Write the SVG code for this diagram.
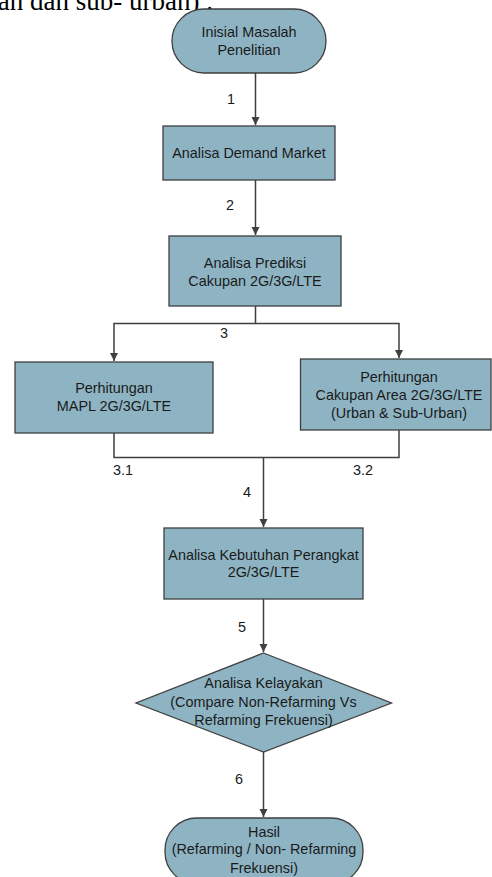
<svg xmlns="http://www.w3.org/2000/svg" width="492" height="877" viewBox="0 0 492 877">
<style>
.n{fill:#8eb4c3;stroke:#3f3f3f;stroke-width:1.3}
.t{font-family:"Liberation Sans",Arial,sans-serif;font-size:14.4px;fill:#1a1a1a;text-anchor:middle}
.c{fill:none;stroke:#3f3f3f;stroke-width:1.5}
.h{font-family:"Liberation Serif","Times New Roman",serif;font-size:27px;fill:#000}
</style>
<defs>
<marker id="a" markerWidth="10" markerHeight="10" refX="8" refY="4" orient="auto" markerUnits="userSpaceOnUse">
<path d="M0,0 L8,4 L0,8 Z" fill="#3f3f3f"/>
</marker>
</defs>
<rect width="492" height="877" fill="#fff"/>
<text class="h" x="213" y="10" text-anchor="end">wan dan sub- urban) .</text>
<g id="connectors">
<path class="c" d="M255.5,73 V125" marker-end="url(#a)"/>
<path class="c" d="M255.5,180 V235" marker-end="url(#a)"/>
<path class="c" d="M255.5,306 V323.5 H114 V361" marker-end="url(#a)"/>
<path class="c" d="M255.5,323.5 H399 V358" marker-end="url(#a)"/>
<path class="c" d="M114,433 V457.5 H399 V430"/>
<path class="c" d="M263.5,457.5 V527" marker-end="url(#a)"/>
<path class="c" d="M263.5,599 V652" marker-end="url(#a)"/>
<path class="c" d="M263.5,752 V817" marker-end="url(#a)"/>
<text class="t" x="231" y="104">1</text>
<text class="t" x="230" y="210">2</text>
<text class="t" x="224" y="338">3</text>
<text class="t" x="123" y="475">3.1</text>
<text class="t" x="363" y="475">3.2</text>
<text class="t" x="247" y="497">4</text>
<text class="t" x="242" y="632">5</text>
<text class="t" x="239" y="784">6</text>
</g>
<g id="start">
<rect class="n" x="172" y="9" width="154" height="64" rx="32"/>
<text class="t" x="249" y="37">Inisial Masalah</text>
<text class="t" x="249" y="55">Penelitian</text>
</g>
<g id="demand">
<rect class="n" x="163" y="126" width="172" height="54"/>
<text class="t" x="249" y="158">Analisa Demand Market</text>
</g>
<g id="prediksi">
<rect class="n" x="169" y="236" width="172" height="70"/>
<text class="t" x="255" y="268">Analisa Prediksi</text>
<text class="t" x="255" y="286">Cakupan 2G/3G/LTE</text>
</g>
<g id="mapl">
<rect class="n" x="15" y="362" width="198" height="71"/>
<text class="t" x="114" y="393">Perhitungan</text>
<text class="t" x="114" y="411">MAPL 2G/3G/LTE</text>
</g>
<g id="cakupan">
<rect class="n" x="300.5" y="359" width="190.5" height="71"/>
<text class="t" x="399" y="382">Perhitungan</text>
<text class="t" x="399" y="400">Cakupan Area 2G/3G/LTE</text>
<text class="t" x="399" y="418">(Urban &amp; Sub-Urban)</text>
</g>
<g id="kebutuhan">
<rect class="n" x="164" y="528" width="199" height="71"/>
<text class="t" x="263.5" y="560">Analisa Kebutuhan Perangkat</text>
<text class="t" x="263.5" y="577">2G/3G/LTE</text>
</g>
<g id="kelayakan">
<polygon class="n" points="263.5,653 391.5,703 263.5,752 136,703"/>
<text class="t" x="263.5" y="688">Analisa Kelayakan</text>
<text class="t" x="263.5" y="707">(Compare Non-Refarming Vs</text>
<text class="t" x="263.5" y="725">Refarming Frekuensi)</text>
</g>
<g id="hasil">
<rect class="n" x="165" y="818" width="198" height="66" rx="32"/>
<text class="t" x="264" y="837">Hasil</text>
<text class="t" x="264" y="854">(Refarming / Non- Refarming</text>
<text class="t" x="264" y="873">Frekuensi)</text>
</g>
</svg>
